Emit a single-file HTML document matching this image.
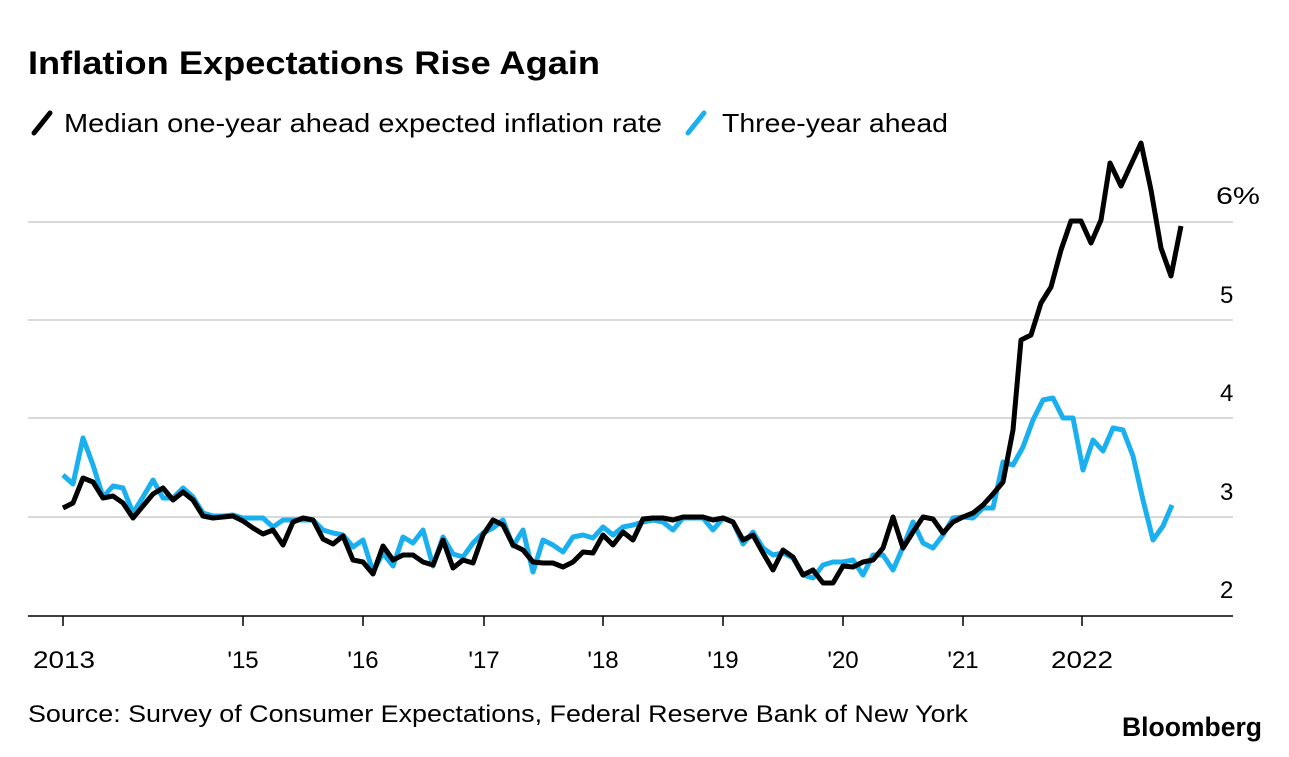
<!DOCTYPE html>
<html><head><meta charset="utf-8"><style>
body{margin:0;background:#fff;width:1289px;height:752px;overflow:hidden;font-family:"Liberation Sans",sans-serif;}
</style></head><body>
<svg width="1289" height="752" viewBox="0 0 1289 752" xmlns="http://www.w3.org/2000/svg" font-family="Liberation Sans, sans-serif">
<text x="28" y="74" font-size="32" font-weight="bold" fill="#000" textLength="572" lengthAdjust="spacingAndGlyphs">Inflation Expectations Rise Again</text>
<line x1="34" y1="133" x2="50" y2="113" stroke="#000" stroke-width="5" stroke-linecap="round"/>
<text x="64" y="132" font-size="26" fill="#000" textLength="598" lengthAdjust="spacingAndGlyphs">Median one-year ahead expected inflation rate</text>
<line x1="688" y1="133" x2="704" y2="113" stroke="#1ab0f0" stroke-width="5" stroke-linecap="round"/>
<text x="722" y="132" font-size="26" fill="#000" textLength="226" lengthAdjust="spacingAndGlyphs">Three-year ahead</text>
<g stroke="#d9d9d9" stroke-width="2">
<line x1="28" y1="222" x2="1233" y2="222"/><line x1="28" y1="320" x2="1233" y2="320"/>
<line x1="28" y1="418" x2="1233" y2="418"/><line x1="28" y1="517" x2="1233" y2="517"/>
</g>
<line x1="28" y1="616" x2="1233" y2="616" stroke="#000" stroke-width="1.5"/>
<g font-size="24" fill="#000">
<text x="1216" y="204" textLength="44" lengthAdjust="spacingAndGlyphs">6%</text><text x="1220" y="303">5</text><text x="1220" y="401">4</text><text x="1220" y="500">3</text><text x="1220" y="598">2</text>
</g>
<g stroke="#000" stroke-width="1.5">
<line x1="63" y1="616" x2="63" y2="626"/><line x1="243" y1="616" x2="243" y2="626"/><line x1="363" y1="616" x2="363" y2="626"/><line x1="484" y1="616" x2="484" y2="626"/><line x1="603" y1="616" x2="603" y2="626"/><line x1="723" y1="616" x2="723" y2="626"/><line x1="843" y1="616" x2="843" y2="626"/><line x1="963" y1="616" x2="963" y2="626"/><line x1="1082" y1="616" x2="1082" y2="626"/>
</g>
<g font-size="24" fill="#000" text-anchor="middle">
<text x="64" y="668" textLength="62" lengthAdjust="spacingAndGlyphs">2013</text><text x="243" y="668">'15</text><text x="363" y="668">'16</text><text x="484" y="668">'17</text><text x="603" y="668">'18</text><text x="723" y="668">'19</text><text x="843" y="668">'20</text><text x="963" y="668">'21</text><text x="1082" y="668" textLength="62" lengthAdjust="spacingAndGlyphs">2022</text>
</g>
<polyline fill="none" stroke="#1ab0f0" stroke-width="5" stroke-linejoin="round" points="63,475 73,484 83,438 93,465 103,497 113,486 123,488 133,513 143,497 153,480 163,498 173,498 183,488 193,497 203,513 213,516 223,516 233,515 243,518 253,518 263,518 273,527 283,520 293,520 303,520 313,520 323,530 333,533 343,535 353,547 363,540 373,572 383,553 393,566 403,537 413,543 423,530 433,566 443,537 453,554 463,557 473,543 483,533 493,528 503,520 513,546 523,530 533,572 543,540 553,545 563,552 573,537 583,535 593,538 603,527 613,535 623,527 633,525 643,522 653,520 663,522 673,530 683,518 693,518 703,518 713,530 723,518 733,522 743,544 753,532 763,548 773,555 783,553 793,558 803,575 813,578 823,565 833,562 843,562 853,560 863,575 873,555 883,555 893,570 903,547 913,522 923,543 933,548 943,535 953,518 963,517 973,518 983,508 993,508 1003,462 1013,465 1023,447 1033,420 1043,400 1053,398 1063,418 1073,418 1083,470 1093,440 1103,451 1113,428 1123,430 1133,456 1143,500 1153,540 1163,526 1172,505"/>
<polyline fill="none" stroke="#000" stroke-width="5" stroke-linejoin="round" points="63,508 73,503 83,478 93,482 103,498 113,496 123,503 133,518 143,506 153,494 163,488 173,500 183,492 193,500 203,516 213,518 223,517 233,516 243,521 253,528 263,534 273,530 283,545 293,522 303,518 313,520 323,539 333,544 343,536 353,560 363,562 373,574 383,546 393,560 403,555 413,555 423,562 433,565 443,540 453,568 463,560 473,563 483,535 493,520 503,525 513,545 523,550 533,562 543,563 553,563 563,567 573,562 583,552 593,553 603,535 613,545 623,532 633,540 643,519 653,518 663,518 673,520 683,517 693,517 703,517 713,520 723,518 733,522 743,540 753,535 763,553 773,570 783,550 793,557 803,575 813,570 823,583 833,583 843,566 853,567 863,562 873,560 883,548 893,517 903,548 913,532 923,517 933,519 943,533 953,522 963,517 973,513 983,505 993,494 1003,482 1013,430 1021,340 1031,335 1041,303 1051,287 1061,250 1071,221 1081,221 1091,243 1101,220 1110,163 1121,186 1141,143 1151,190 1161,248 1171,276 1181,226"/>
<text x="28" y="722" font-size="24" fill="#000" textLength="940" lengthAdjust="spacingAndGlyphs">Source: Survey of Consumer Expectations, Federal Reserve Bank of New York</text>
<text x="1122" y="736" font-size="27" font-weight="bold" fill="#000" textLength="140" lengthAdjust="spacingAndGlyphs">Bloomberg</text>
</svg>
</body></html>
